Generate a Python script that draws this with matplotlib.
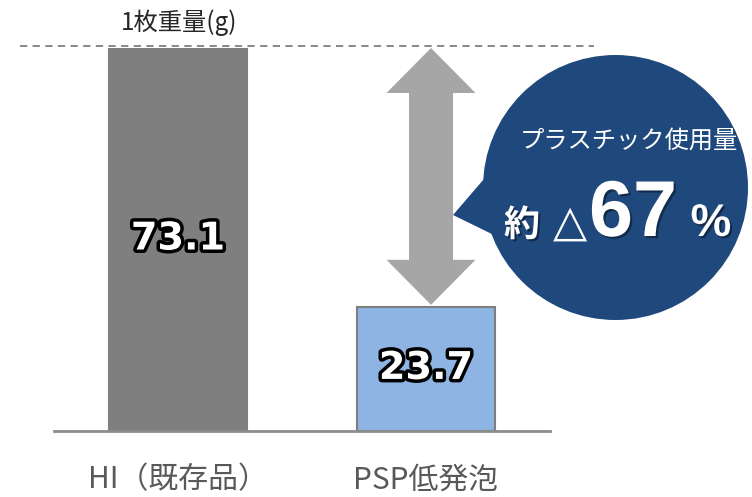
import matplotlib
matplotlib.use("Agg")
import matplotlib.pyplot as plt
import matplotlib.patheffects as pe
from matplotlib.patches import Circle, Polygon
from matplotlib.lines import Line2D

plt.rcParams['font.family'] = ['Noto Sans CJK JP', 'DejaVu Sans']

categories = ["HI（既存品）", "PSP低発泡"]
values = [73.1, 23.7]
value_labels = ["73.1", "23.7"]
unit_label = "1枚重量(g)"
bubble_title = "プラスチック使用量"
reduction_pct = "67"

W, H = 752, 497
fig = plt.figure(figsize=(W / 100, H / 100), dpi=100)

# main bar axes (pixel layout: x 54..550, y 48..431)
ax = fig.add_axes([54 / W, (H - 431) / H, (550 - 54) / W, (431 - 48) / H])
x = [0, 1]
ax.bar(x, values, width=0.56, color=["#7f7f7f", "#8eb4e3"],
       edgecolor=["#7f7f7f", "#7f7f7f"], linewidth=1.5, zorder=2)
ax.set_xlim(-0.5, 1.5)
ax.set_ylim(0, max(values))
for s in ["top", "left", "right"]:
    ax.spines[s].set_visible(False)
ax.spines["bottom"].set_color("#8c8c8c")
ax.spines["bottom"].set_linewidth(2)
ax.spines["bottom"].set_zorder(3)
ax.set_yticks([])
ax.set_xticks(x)
ax.set_xticklabels(categories, fontsize=21.5, color="#595959")
ax.tick_params(axis="x", length=0, pad=24)
ax.patch.set_alpha(0)

glow = [pe.withStroke(linewidth=5, foreground="black")]
for xi, v, lab in zip(x, values, value_labels):
    ax.text(xi, v / 2, lab, ha="center", va="center", fontsize=27.5,
            fontweight="bold", family="DejaVu Sans", color="white",
            path_effects=glow, zorder=5)

fig.canvas.draw()

# overlay axes in pixel coordinates
ov = fig.add_axes([0, 0, 1, 1])
ov.set_xlim(0, W)
ov.set_ylim(H, 0)
ov.axis("off")
ov.patch.set_alpha(0)

def data_to_pix(xd, yd):
    px, py = ax.transData.transform((xd, yd))
    return px, H - py

# dashed line at top value
_, y_top = data_to_pix(0, values[0])
ov.add_line(Line2D([20, 594], [y_top - 2, y_top - 2], color="#7f7f7f",
                   linestyle=(0, (4, 3)), linewidth=1.3))
ov.text(179, 23, unit_label, ha="center", va="center", fontsize=17.5,
        color="#262626")

# double-headed arrow between the two values
ax_c = 431
_, y1 = data_to_pix(1, values[0])
_, y2 = data_to_pix(1, values[1])
y2 = y2 - 2
hl, hw, sw = 45, 44.5, 22
arrow = Polygon([
    (ax_c, y1), (ax_c + hw, y1 + hl), (ax_c + sw, y1 + hl),
    (ax_c + sw, y2 - hl), (ax_c + hw, y2 - hl), (ax_c, y2),
    (ax_c - hw, y2 - hl), (ax_c - sw, y2 - hl), (ax_c - sw, y1 + hl),
    (ax_c - hw, y1 + hl)], closed=True, facecolor="#a6a6a6",
    edgecolor="none")
ov.add_patch(arrow)

# speech bubble
bc = "#1f497d"
ov.add_patch(Circle((615.5, 187.5), 132.5, facecolor=bc, edgecolor="none"))
ov.add_patch(Polygon([(490, 172), (453, 215), (500, 238)], closed=True,
                     facecolor=bc, edgecolor="none"))

shadow = [pe.withSimplePatchShadow(offset=(1.5, -1.5), shadow_rgbFace="black",
                                   alpha=0.4)]
ov.text(629, 141, bubble_title, ha="center", va="center", fontsize=17.5,
        color="white")
ov.text(522, 236, "約", ha="center", va="baseline", fontsize=26,
        fontweight="bold", color="white", path_effects=shadow)
ov.text(570, 236, "△", ha="center", va="baseline", fontsize=32,
        color="white", family=["DejaVu Sans"])
ov.text(633, 236, reduction_pct, ha="center", va="baseline", fontsize=57,
        fontweight="bold", family="Liberation Sans", color="white",
        path_effects=shadow)
ov.text(711, 236, "%", ha="center", va="baseline", fontsize=33,
        fontweight="bold", family="Liberation Sans", color="white",
        path_effects=shadow)

fig.savefig("out.png", dpi=100)
